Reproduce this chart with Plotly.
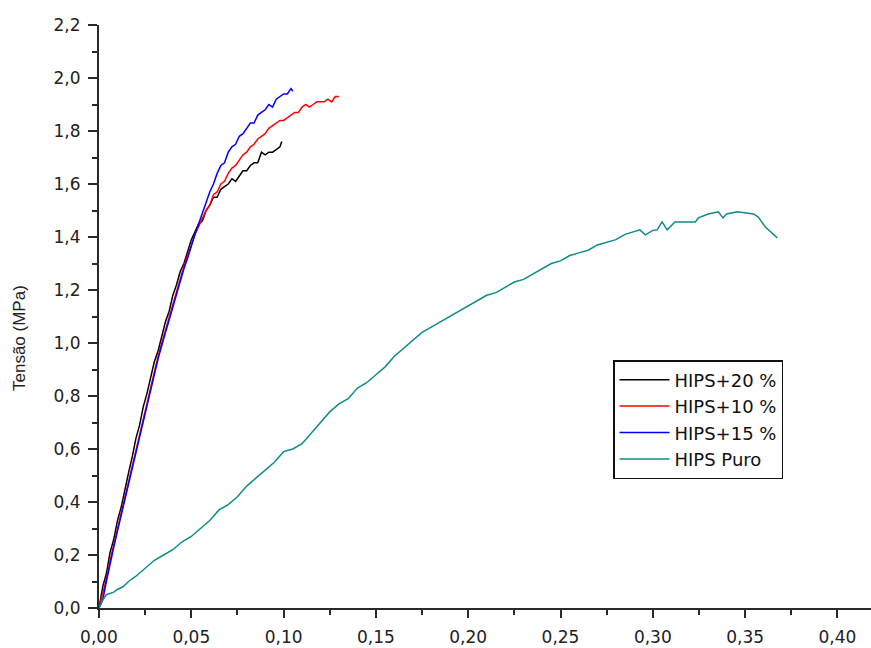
import plotly.graph_objects as go

# ---- data ----
x_20 = [0, 0.002, 0.004, 0.006, 0.008, 0.010, 0.012, 0.014, 0.016, 0.018, 0.020, 0.022, 0.024,
        0.026, 0.028, 0.030, 0.032, 0.034, 0.036, 0.038, 0.040, 0.042, 0.044, 0.046, 0.048, 0.050,
        0.052, 0.054, 0.056, 0.058, 0.060, 0.062, 0.064, 0.066, 0.068, 0.070, 0.072, 0.074, 0.076,
        0.078, 0.080, 0.082, 0.084, 0.086, 0.088, 0.090, 0.092, 0.094, 0.096, 0.098, 0.099]
y_20 = [0.00, 0.08, 0.13, 0.21, 0.26, 0.33, 0.38, 0.45, 0.51, 0.57, 0.64, 0.69, 0.76,
        0.81, 0.87, 0.93, 0.97, 1.03, 1.08, 1.12, 1.18, 1.22, 1.27, 1.30, 1.35, 1.39,
        1.42, 1.45, 1.46, 1.50, 1.52, 1.55, 1.55, 1.58, 1.59, 1.60, 1.62, 1.61, 1.63,
        1.65, 1.65, 1.67, 1.68, 1.68, 1.72, 1.71, 1.72, 1.72, 1.73, 1.74, 1.76]

x_10 = [0, 0.002, 0.004, 0.006, 0.008, 0.010, 0.012, 0.014, 0.016, 0.018, 0.020, 0.022, 0.024,
        0.026, 0.028, 0.030, 0.032, 0.034, 0.036, 0.038, 0.040, 0.042, 0.044, 0.046, 0.048, 0.050,
        0.052, 0.054, 0.056, 0.058, 0.060, 0.062, 0.064, 0.066, 0.068, 0.070, 0.072, 0.074, 0.076,
        0.078, 0.080, 0.082, 0.084, 0.086, 0.088, 0.090, 0.092, 0.094, 0.096, 0.098, 0.100, 0.102,
        0.104, 0.106, 0.108, 0.110, 0.112, 0.114, 0.116, 0.118, 0.120, 0.122, 0.124, 0.126, 0.128,
        0.130]
y_10 = [0.00, 0.05, 0.11, 0.18, 0.24, 0.30, 0.36, 0.42, 0.48, 0.54, 0.60, 0.66, 0.72,
        0.78, 0.84, 0.89, 0.95, 1.00, 1.05, 1.10, 1.15, 1.20, 1.25, 1.29, 1.33, 1.37,
        1.41, 1.44, 1.47, 1.50, 1.52, 1.56, 1.57, 1.60, 1.61, 1.64, 1.66, 1.67, 1.69,
        1.71, 1.72, 1.74, 1.75, 1.77, 1.78, 1.79, 1.81, 1.82, 1.83, 1.84, 1.84, 1.85,
        1.86, 1.87, 1.87, 1.89, 1.90, 1.89, 1.90, 1.91, 1.91, 1.91, 1.92, 1.91, 1.93,
        1.93]

x_15 = [0, 0.002, 0.004, 0.006, 0.008, 0.010, 0.012, 0.014, 0.016, 0.018, 0.020, 0.022, 0.024,
        0.026, 0.028, 0.030, 0.032, 0.034, 0.036, 0.038, 0.040, 0.042, 0.044, 0.046, 0.048, 0.050,
        0.052, 0.054, 0.056, 0.058, 0.060, 0.062, 0.064, 0.066, 0.068, 0.070, 0.072, 0.074, 0.076,
        0.078, 0.080, 0.082, 0.084, 0.086, 0.088, 0.090, 0.092, 0.094, 0.096, 0.098, 0.100, 0.102,
        0.104, 0.105]
y_15 = [0.00, 0.03, 0.10, 0.17, 0.23, 0.29, 0.35, 0.41, 0.47, 0.53, 0.59, 0.65, 0.71,
        0.77, 0.83, 0.88, 0.94, 0.99, 1.04, 1.09, 1.14, 1.19, 1.24, 1.28, 1.32, 1.37,
        1.41, 1.45, 1.49, 1.53, 1.57, 1.60, 1.64, 1.67, 1.68, 1.72, 1.74, 1.75, 1.78,
        1.79, 1.81, 1.83, 1.83, 1.86, 1.87, 1.88, 1.90, 1.89, 1.92, 1.93, 1.94, 1.94,
        1.96, 1.95]

x_puro = [0, 0.002, 0.004, 0.006, 0.008, 0.010, 0.013, 0.016, 0.020, 0.025, 0.030, 0.035, 0.040,
          0.045, 0.050, 0.055, 0.060, 0.065, 0.070, 0.075, 0.080, 0.085, 0.090, 0.095, 0.100,
          0.105, 0.110, 0.115, 0.120, 0.125, 0.130, 0.135, 0.140, 0.145, 0.150, 0.155, 0.160,
          0.165, 0.170, 0.175, 0.180, 0.185, 0.190, 0.195, 0.200, 0.205, 0.210, 0.215, 0.220,
          0.225, 0.230, 0.235, 0.240, 0.245, 0.250, 0.255, 0.260, 0.265, 0.270, 0.275, 0.280,
          0.285, 0.290, 0.293, 0.296, 0.300, 0.3024, 0.305, 0.3078, 0.312, 0.323, 0.3247, 0.330,
          0.3355, 0.338, 0.340, 0.3458, 0.3545, 0.357, 0.361, 0.3675]
y_puro = [0.00, 0.03, 0.05, 0.055, 0.06, 0.07, 0.08, 0.10, 0.12, 0.15, 0.18, 0.20, 0.22,
          0.25, 0.27, 0.30, 0.33, 0.37, 0.39, 0.42, 0.46, 0.49, 0.52, 0.55, 0.59,
          0.60, 0.62, 0.66, 0.70, 0.74, 0.77, 0.79, 0.83, 0.85, 0.88, 0.91, 0.95,
          0.98, 1.01, 1.04, 1.06, 1.08, 1.10, 1.12, 1.14, 1.16, 1.18, 1.19, 1.21,
          1.23, 1.24, 1.26, 1.28, 1.30, 1.31, 1.33, 1.34, 1.35, 1.37, 1.38, 1.39,
          1.41, 1.42, 1.427, 1.408, 1.425, 1.427, 1.457, 1.427, 1.457, 1.457, 1.472, 1.487,
          1.495, 1.472, 1.487, 1.495, 1.487, 1.476, 1.438, 1.396]

names = ["HIPS+20 %", "HIPS+10 %", "HIPS+15 %", "HIPS Puro"]
colors = ["#000000", "#ff0000", "#0000ff", "#108a8a"]
series = [(x_20, y_20), (x_10, y_10), (x_15, y_15), (x_puro, y_puro)]

x_ticks = [0.00, 0.05, 0.10, 0.15, 0.20, 0.25, 0.30, 0.35, 0.40]
y_ticks = [0.0, 0.2, 0.4, 0.6, 0.8, 1.0, 1.2, 1.4, 1.6, 1.8, 2.0, 2.2]
x_range = [0, 0.4182]
y_range = [0, 2.2]
y_title = "Tensão (MPa)"

W, H = 871, 648
ML, MR, MT, MB = 99, 0, 25, 40
PW, PH = W - ML - MR, H - MT - MB

fig = go.Figure()
for (xs, ys), n, c in zip(series, names, colors):
    fig.add_trace(go.Scatter(x=xs, y=ys, mode="lines", name=n,
                             line=dict(color=c, width=1.5)))

axis_col = "#2a2a2a"
tick_font = dict(family="DejaVu Sans", size=17, color="#222222")

fig.update_layout(
    width=W, height=H,
    margin=dict(l=ML, r=MR, t=MT, b=MB),
    plot_bgcolor="white", paper_bgcolor="white",
    separators=",.",
    showlegend=True,
    legend=dict(x=(613 - ML) / PW, y=(H - MB - 360) / PH, xanchor="left", yanchor="top",
                bordercolor="#111111", borderwidth=1.5, bgcolor="white",
                font=dict(family="DejaVu Sans", size=18, color="#111111"),
                tracegroupgap=0, itemwidth=50),
    xaxis=dict(range=x_range, tickvals=x_ticks, tickformat=".2f", ticks="outside",
               ticklen=8, tickwidth=2, tickcolor=axis_col, showline=True, linewidth=2,
               linecolor=axis_col, showgrid=False, zeroline=False, tickfont=tick_font,
               ticklabelstandoff=5, automargin=False,
               minor=dict(dtick=0.025, tick0=0, ticks="outside", ticklen=5, tickwidth=2,
                          tickcolor=axis_col, showgrid=False)),
    yaxis=dict(range=y_range, tickvals=y_ticks, tickformat=".1f", ticks="outside",
               ticklen=9, tickwidth=2, tickcolor=axis_col, showline=True, linewidth=2,
               linecolor=axis_col, showgrid=False, zeroline=False, tickfont=tick_font,
               ticklabelstandoff=4, automargin=False,
               minor=dict(dtick=0.1, tick0=0, ticks="outside", ticklen=5, tickwidth=2,
                          tickcolor=axis_col, showgrid=False)),
    xaxis2=dict(overlaying="x", side="top", anchor="y", range=x_range, tick0=0, dtick=0.0851,
                ticks="inside", ticklen=8, tickwidth=2, tickcolor=axis_col,
                showticklabels=False, showline=True, linewidth=2, linecolor=axis_col,
                showgrid=False, zeroline=False, automargin=False,
                minor=dict(dtick=0.04255, tick0=0, ticks="inside", ticklen=4, tickwidth=2,
                           tickcolor=axis_col, showgrid=False)),
)

fig.add_annotation(text=y_title, textangle=-90, showarrow=False,
                   xref="paper", yref="paper",
                   x=(20 - ML) / PW, y=(H - MB - 338) / PH,
                   xanchor="center", yanchor="middle",
                   font=dict(family="Liberation Sans", size=17, color="#222222"))

fig.write_html("out.html",
               config={"displayModeBar": False},
               post_script="document.body.style.margin='0';"
                           "document.body.style.overflow='hidden';")
